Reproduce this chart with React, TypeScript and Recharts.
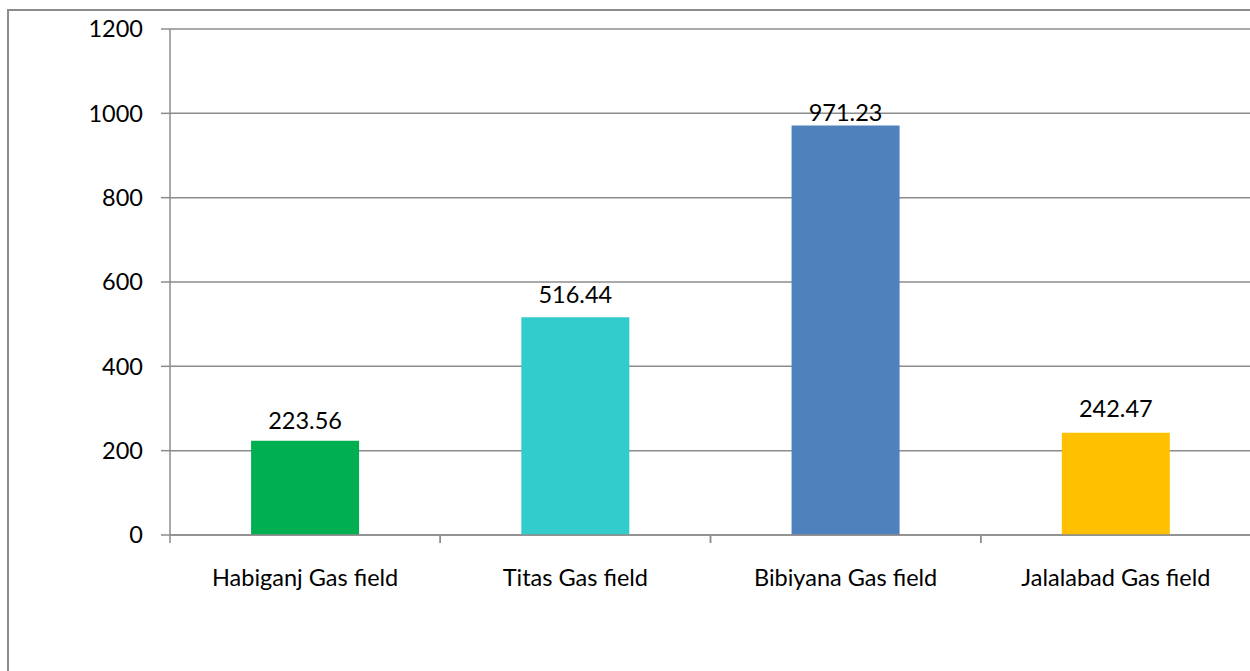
import { BarChart, Bar, XAxis, YAxis, CartesianGrid, Cell } from 'recharts';

const categories = ['Habiganj Gas field', 'Titas Gas field', 'Bibiyana Gas field', 'Jalalabad Gas field'];
const values = [223.56, 516.44, 971.23, 242.47];
const barColors = ['#00B050', '#33CCCC', '#4F81BD', '#FFC000'];
const yTicks = [0, 200, 400, 600, 800, 1000, 1200];

const data = categories.map((name, i) => ({ name, value: values[i] }));

const FONT = 'Lato, "Open Sans", sans-serif';
const FONT_SIZE = 23.5;
const LINE = '#8c8c8c';
const X_TICK_SIZE = 8;
const X_TICK_MARGIN = 26;
// gap between bar top and label baseline, per bar
const LABEL_GAPS = [12, 14, 4.5, 16];

function CategoryTick(props: any) {
  const { x, y, payload, width, visibleTicksCount } = props;
  const band = width / visibleTicksCount;
  const lineY = y - X_TICK_SIZE - X_TICK_MARGIN;
  const left = x - band / 2;
  return (
    <g>
      <line x1={left} x2={left} y1={lineY} y2={lineY + X_TICK_SIZE} stroke={LINE} strokeWidth={1.5} />
      <line x1={left + band} x2={left + band} y1={lineY} y2={lineY + X_TICK_SIZE} stroke={LINE} strokeWidth={1.5} />
      <text x={x} y={y} dy="0.71em" textAnchor="middle" fill="#000" fontSize={FONT_SIZE} fontFamily={FONT}>
        {payload.value}
      </text>
    </g>
  );
}

function ValueLabel(props: any) {
  const { x, y, width, value, index } = props;
  return (
    <text
      x={x + width / 2}
      y={y - LABEL_GAPS[index]}
      textAnchor="middle"
      fill="#000"
      fontSize={FONT_SIZE}
      fontFamily={FONT}
    >
      {value}
    </text>
  );
}

export default function App() {
  return (
    <div style={{ position: 'fixed', left: 0, top: 0, width: 1250, height: 671, overflow: 'hidden', background: '#fff' }}>
      <div
        style={{
          position: 'absolute',
          left: 7,
          top: 9,
          width: 1300,
          height: 720,
          border: `2px solid ${LINE}`,
        }}
      />
      <div style={{ position: 'absolute', left: 0, top: 0 }}>
        <BarChart
          width={1260}
          height={671}
          data={data}
          margin={{ top: 29, right: 9, bottom: 76, left: 0 }}
          barCategoryGap="30%"
        >
          <CartesianGrid vertical={false} stroke={LINE} strokeWidth={1.5} />
          <XAxis
            dataKey="name"
            height={60}
            axisLine={{ stroke: LINE, strokeWidth: 1.5 }}
            tickLine={false}
            tickSize={X_TICK_SIZE}
            tickMargin={X_TICK_MARGIN}
            interval={0}
            tick={<CategoryTick />}
          />
          <YAxis
            width={170}
            domain={[0, 1200]}
            ticks={yTicks}
            interval={0}
            axisLine={{ stroke: LINE, strokeWidth: 1.5 }}
            tickLine={{ stroke: LINE, strokeWidth: 1.5 }}
            tickSize={9}
            tickMargin={18}
            tick={{ fill: '#000', fontSize: FONT_SIZE, fontFamily: FONT }}
          />
          <Bar dataKey="value" isAnimationActive={false} label={<ValueLabel />}>
            {data.map((d, i) => (
              <Cell key={d.name} fill={barColors[i]} />
            ))}
          </Bar>
        </BarChart>
      </div>
    </div>
  );
}
